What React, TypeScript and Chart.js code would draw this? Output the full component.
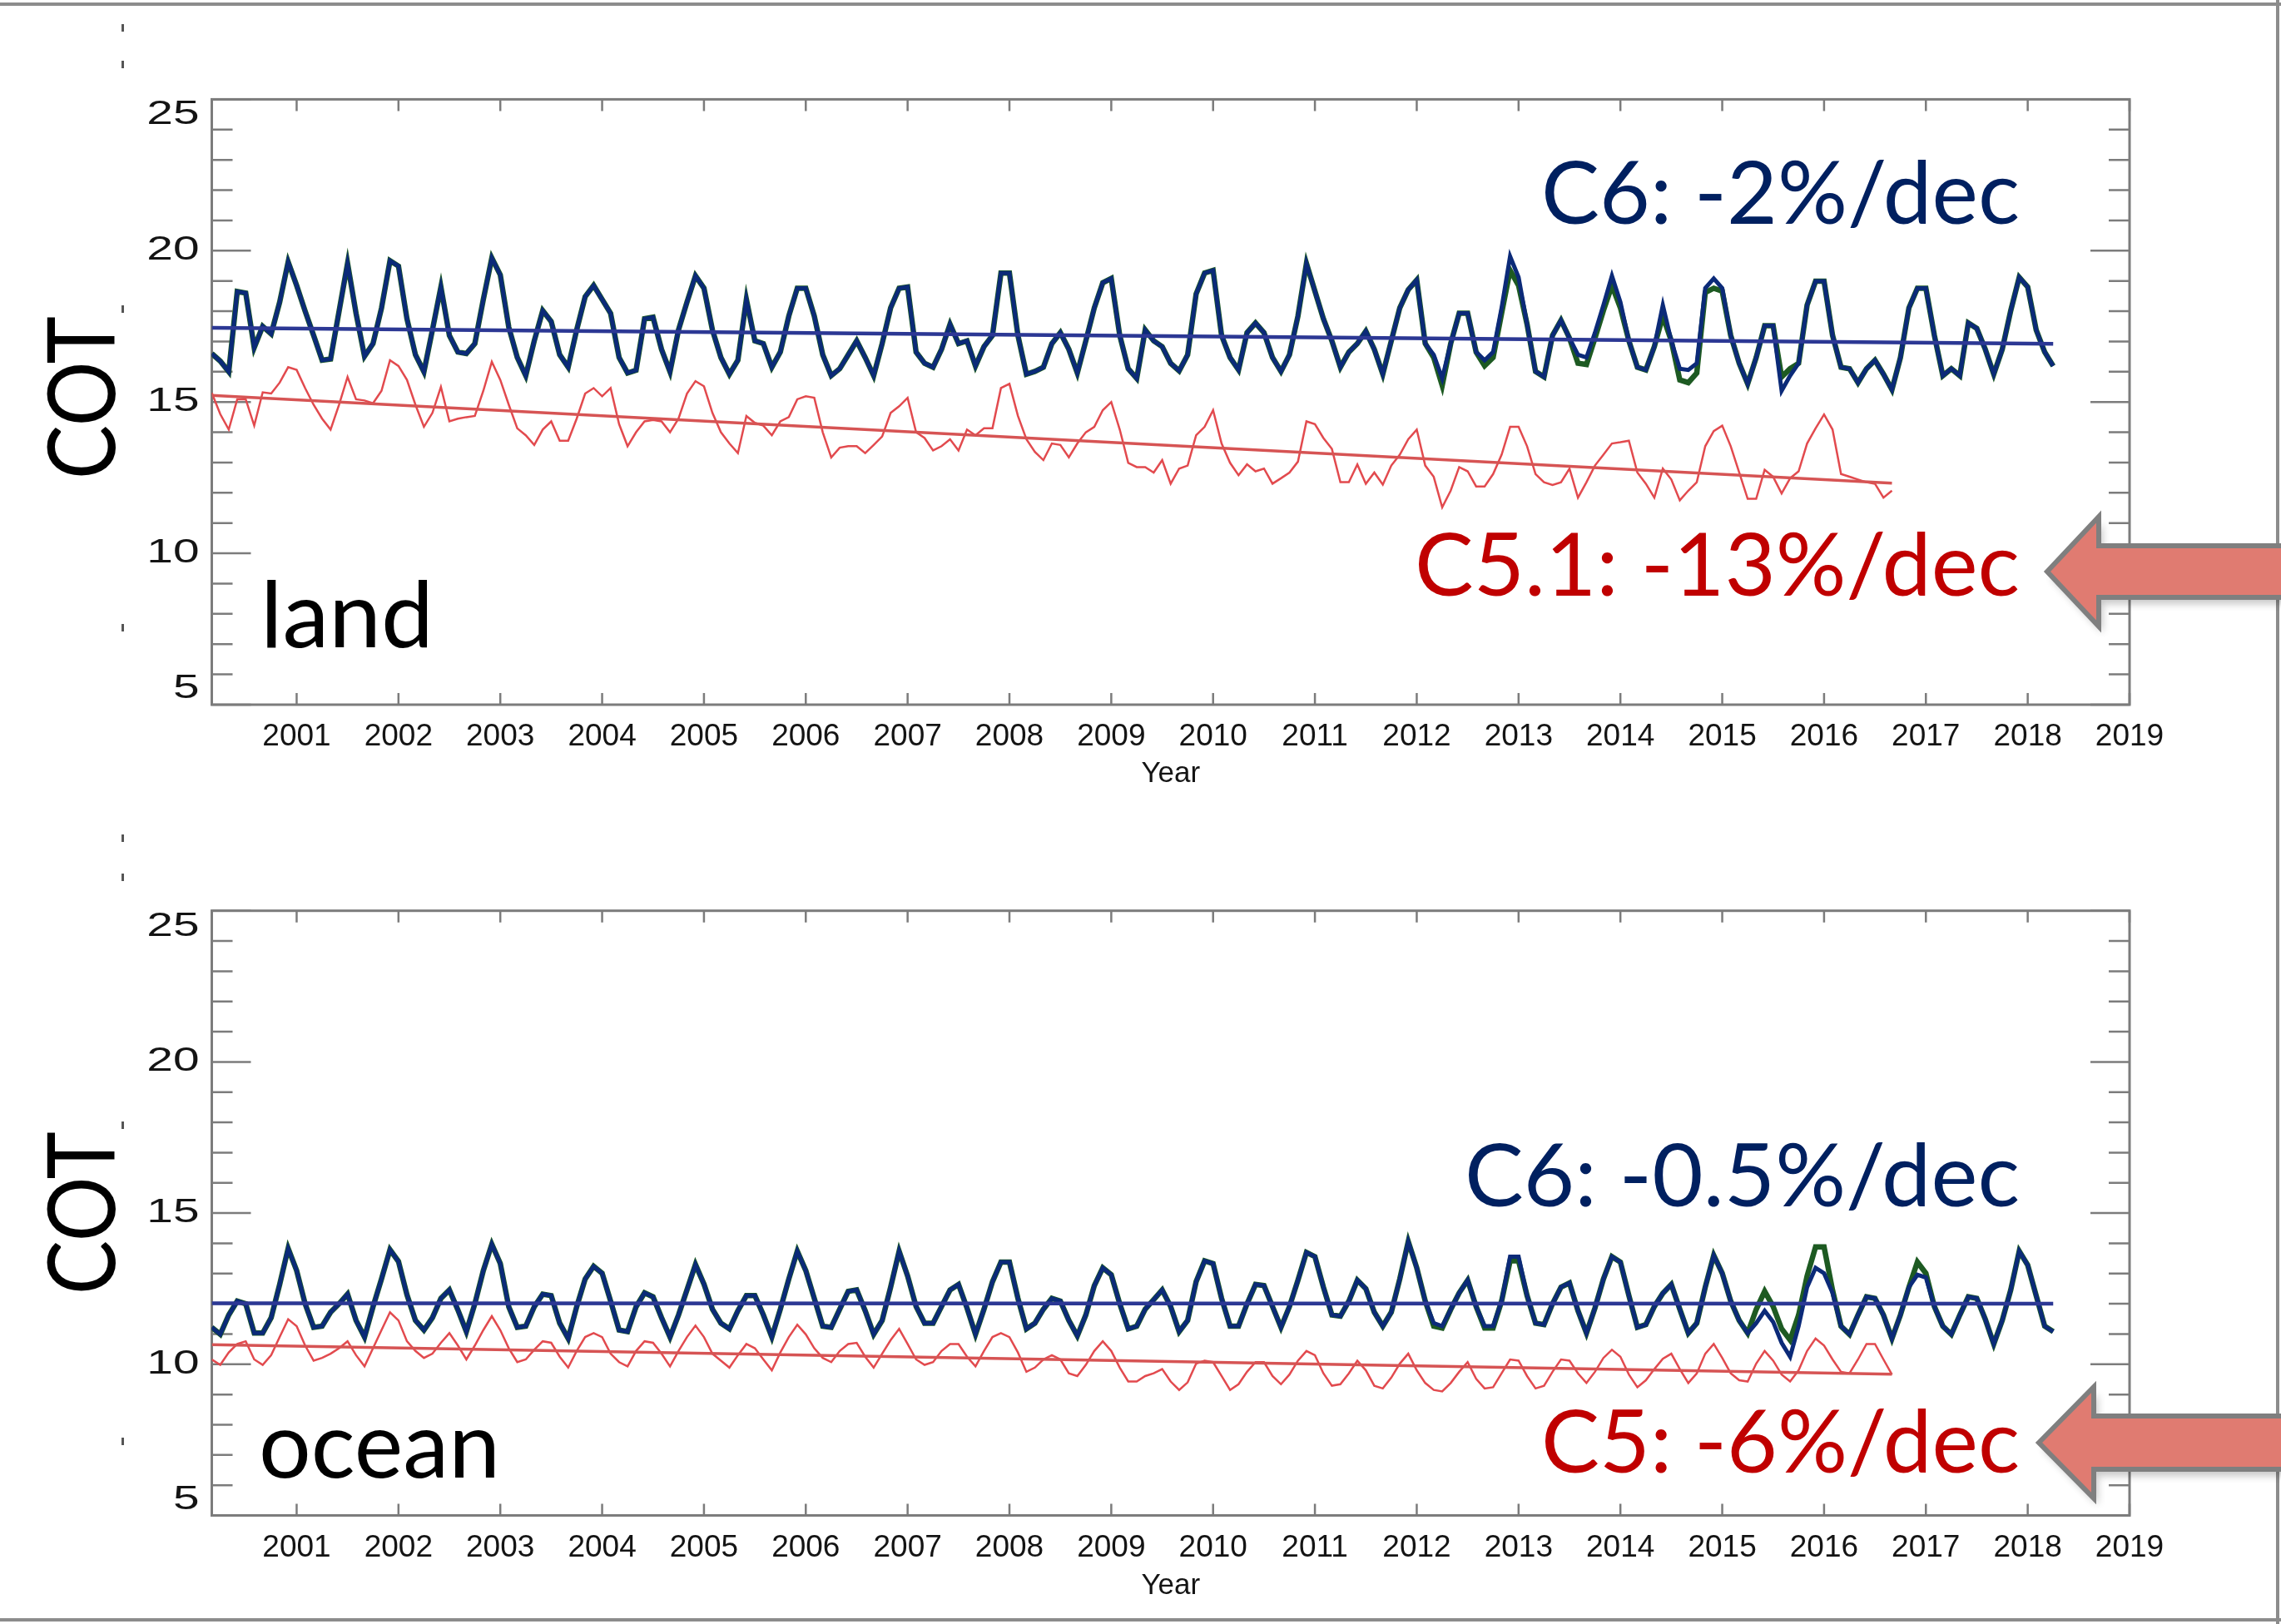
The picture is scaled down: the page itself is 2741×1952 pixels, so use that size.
import React, { useEffect, useRef } from 'react';
import { Chart, registerables } from 'chart.js';

Chart.register(...registerables);

// ---------- data ----------
const YEAR0 = 2000;            // month index 0 = Jan 2000
const FIRST_MONTH = 2;         // series start at Mar 2000
const C6_LAST_MONTH = 219;     // Apr 2018
const C5_LAST_MONTH = 200;     // Sep 2016
const X_MIN = 2000 + 2 / 12;
const X_MAX = 2019;
const YEAR_TICKS = [2001, 2002, 2003, 2004, 2005, 2006, 2007, 2008, 2009, 2010, 2011, 2012, 2013, 2014, 2015, 2016, 2017, 2018, 2019];
const Y_TICKS = [5, 10, 15, 20, 25];
const Y_MINOR_TICKS = [5, 6, 7, 8, 9, 10, 11, 12, 13, 14, 15, 16, 17, 18, 19, 20, 21, 22, 23, 24, 25];

const LAND_C6_BLUE = [
  16.6, 16.35, 16.0, 18.65, 18.6, 16.8, 17.5, 17.25, 18.3, 19.63,
  18.85, 18.0, 17.2, 16.38, 16.42, 18.0, 19.58, 17.93, 16.51, 16.93,
  18.1, 19.67, 19.49, 17.75, 16.56, 16.0, 17.38, 18.8, 17.2, 16.65,
  16.6, 16.93, 18.39, 19.76, 19.2, 17.47, 16.47, 15.87, 17.02, 18.02,
  17.66, 16.56, 16.15, 17.38, 18.48, 18.85, 18.39, 17.93, 16.47, 15.96,
  16.05, 17.75, 17.8, 16.74, 16.0, 17.38, 18.3, 19.17, 18.76, 17.38,
  16.47, 15.92, 16.38, 18.39, 17.02, 16.93, 16.15, 16.65, 17.84, 18.76,
  18.76, 17.84, 16.56, 15.87, 16.1, 16.56, 17.02, 16.47, 15.87, 16.93,
  18.11, 18.76, 18.8, 16.65, 16.28, 16.15, 16.74, 17.57, 16.93, 17.02,
  16.19, 16.83, 17.2, 19.26, 19.26, 17.2, 15.92, 16.01, 16.15, 16.93,
  17.29, 16.74, 15.96, 17.02, 18.11, 18.94, 19.08, 17.2, 16.1, 15.78,
  17.38, 17.02, 16.83, 16.28, 16.03, 16.56, 18.57, 19.26, 19.35, 17.2,
  16.47, 16.06, 17.29, 17.61, 17.29, 16.47, 16.01, 16.56, 17.84, 19.58,
  18.66, 17.75, 17.02, 16.15, 16.65, 16.93, 17.34, 16.74, 15.92, 17.02,
  18.11, 18.71, 19.03, 16.93, 16.56, 15.78, 16.93, 17.93, 17.93, 16.65,
  16.38, 16.65, 18.11, 19.81, 19.12, 17.57, 16.01, 15.83, 17.2, 17.7,
  17.11, 16.56, 16.47, 17.29, 18.2, 19.17, 18.3, 17.02, 16.15, 16.06,
  16.83, 18.2, 17.02, 16.1, 16.06, 16.28, 18.76, 19.08, 18.76, 17.2,
  16.28, 15.6, 16.47, 17.52, 17.52, 15.37, 15.87, 16.28, 18.2, 18.99,
  18.99, 17.2, 16.15, 16.1, 15.64, 16.1, 16.38, 15.92, 15.41, 16.47,
  18.11, 18.76, 18.76, 17.2, 15.87, 16.1, 15.87, 17.61, 17.43, 16.74,
  15.92, 16.74, 18.02, 19.12, 18.8, 17.38, 16.65, 16.19,
];

const LAND_C6_GREEN = [
  16.6, 16.35, 16.0, 18.65, 18.6, 16.8, 17.5, 17.25, 18.3, 19.63,
  18.85, 18.0, 17.2, 16.38, 16.42, 18.0, 19.58, 17.93, 16.51, 16.93,
  18.1, 19.67, 19.49, 17.75, 16.56, 16.0, 17.38, 18.8, 17.2, 16.65,
  16.6, 16.93, 18.39, 19.76, 19.2, 17.47, 16.47, 15.87, 17.02, 18.02,
  17.66, 16.56, 16.15, 17.38, 18.48, 18.85, 18.39, 17.93, 16.47, 15.96,
  16.05, 17.75, 17.8, 16.74, 16.0, 17.38, 18.3, 19.17, 18.76, 17.38,
  16.47, 15.92, 16.38, 18.39, 17.02, 16.93, 16.15, 16.65, 17.84, 18.76,
  18.76, 17.84, 16.56, 15.87, 16.1, 16.56, 17.02, 16.47, 15.87, 16.93,
  18.11, 18.76, 18.8, 16.65, 16.28, 16.15, 16.74, 17.57, 16.93, 17.02,
  16.19, 16.83, 17.2, 19.26, 19.26, 17.2, 15.92, 16.01, 16.15, 16.93,
  17.29, 16.74, 15.96, 17.02, 18.11, 18.94, 19.08, 17.2, 16.1, 15.78,
  17.38, 17.02, 16.83, 16.28, 16.03, 16.56, 18.57, 19.26, 19.35, 17.2,
  16.47, 16.06, 17.29, 17.61, 17.29, 16.47, 16.01, 16.56, 17.84, 19.58,
  18.66, 17.75, 17.02, 16.15, 16.65, 16.93, 17.34, 16.74, 15.92, 17.02,
  18.11, 18.71, 19.03, 16.93, 16.47, 15.55, 16.93, 17.93, 17.93, 16.65,
  16.2, 16.47, 17.93, 19.35, 18.85, 17.57, 16.01, 15.83, 17.2, 17.7,
  17.11, 16.28, 16.24, 17.11, 18.02, 18.85, 18.11, 17.02, 16.15, 16.06,
  16.83, 17.84, 17.02, 15.73, 15.64, 15.96, 18.62, 18.76, 18.66, 17.2,
  16.28, 15.6, 16.47, 17.52, 17.52, 15.83, 16.1, 16.28, 18.2, 18.99,
  18.99, 17.2, 16.15, 16.1, 15.64, 16.1, 16.38, 15.92, 15.41, 16.47,
  18.11, 18.76, 18.76, 17.2, 15.87, 16.1, 15.87, 17.61, 17.43, 16.74,
  15.92, 16.74, 18.02, 19.12, 18.8, 17.38, 16.65, 16.19,
];

const LAND_C51 = [
  15.3, 14.6, 14.09, 15.09, 15.09, 14.22, 15.32, 15.28, 15.64, 16.15,
  16.06, 15.46, 14.91, 14.45, 14.09, 14.91, 15.83, 15.09, 15.05, 14.96,
  15.37, 16.38, 16.19, 15.73, 14.91, 14.18, 14.64, 15.5, 14.36, 14.45,
  14.5, 14.54, 15.37, 16.33, 15.73, 14.91, 14.13, 13.9, 13.58, 14.09,
  14.36, 13.72, 13.72, 14.45, 15.28, 15.46, 15.19, 15.46, 14.27, 13.54,
  14.0, 14.36, 14.41, 14.36, 14.0, 14.45, 15.28, 15.69, 15.52, 14.64,
  14.0, 13.63, 13.31, 14.54, 14.31, 14.22, 13.9, 14.36, 14.5, 15.09,
  15.19, 15.14, 14.0, 13.17, 13.49, 13.54, 13.54, 13.31, 13.58, 13.86,
  14.64, 14.86, 15.14, 14.0, 13.81, 13.4, 13.54, 13.77, 13.4, 14.09,
  13.9, 14.13, 14.13, 15.46, 15.6, 14.54, 13.77, 13.35, 13.08, 13.63,
  13.58, 13.17, 13.63, 14.0, 14.18, 14.73, 15.0, 14.09, 12.99, 12.85,
  12.85, 12.67, 13.08, 12.3, 12.8, 12.9, 13.9, 14.18, 14.73, 13.63,
  12.99, 12.58, 12.94, 12.71, 12.8, 12.3, 12.48, 12.67, 13.03, 14.36,
  14.27, 13.81, 13.45, 12.35, 12.35, 12.94, 12.3, 12.67, 12.27, 12.9,
  13.26, 13.77, 14.09, 12.9, 12.53, 11.52, 12.07, 12.85, 12.71, 12.21,
  12.21, 12.62, 13.26, 14.18, 14.18, 13.54, 12.62, 12.35, 12.26, 12.35,
  12.8, 11.84, 12.35, 12.9, 13.26, 13.63, 13.67, 13.72, 12.67, 12.3,
  11.84, 12.8, 12.44, 11.75, 12.07, 12.35, 13.54, 14.04, 14.22, 13.54,
  12.67, 11.8, 11.8, 12.76, 12.53, 11.98, 12.48, 12.71, 13.63, 14.13,
  14.59, 14.09, 12.62, 12.53, 12.44, 12.35, 12.3, 11.84, 12.07,
];

const OCEAN_C6_BLUE = [
  11.22, 10.99, 11.63, 12.09, 12.0, 11.03, 11.03, 11.54, 12.64, 13.83,
  13.1, 12.0, 11.22, 11.26, 11.72, 12.0, 12.32, 11.45, 10.9, 11.9,
  12.82, 13.79, 13.4, 12.3, 11.45, 11.13, 11.54, 12.18, 12.46, 11.8,
  11.08, 12.0, 13.1, 13.97, 13.33, 11.9, 11.22, 11.26, 11.9, 12.32,
  12.27, 11.36, 10.85, 11.9, 12.82, 13.24, 13.01, 12.09, 11.13, 11.08,
  11.9, 12.36, 12.23, 11.54, 10.9, 11.63, 12.46, 13.3, 12.65, 11.82,
  11.36, 11.17, 11.77, 12.27, 12.27, 11.63, 10.9, 11.82, 12.82, 13.74,
  13.1, 12.18, 11.26, 11.22, 11.82, 12.41, 12.46, 11.77, 10.99, 11.45,
  12.55, 13.74, 12.92, 11.91, 11.36, 11.36, 11.91, 12.46, 12.64, 11.86,
  10.99, 11.82, 12.73, 13.38, 13.38, 12.18, 11.17, 11.36, 11.82, 12.18,
  12.09, 11.45, 10.94, 11.63, 12.6, 13.19, 12.96, 12.0, 11.17, 11.26,
  11.82, 12.14, 12.46, 11.91, 11.08, 11.45, 12.73, 13.42, 13.33, 12.18,
  11.26, 11.26, 12.0, 12.64, 12.6, 11.91, 11.22, 11.91, 12.78, 13.7,
  13.56, 12.55, 11.63, 11.59, 12.09, 12.78, 12.5, 11.72, 11.26, 11.72,
  12.82, 14.06, 13.19, 12.09, 11.36, 11.26, 11.81, 12.36, 12.78, 11.91,
  11.26, 11.26, 12.09, 13.56, 13.56, 12.27, 11.36, 11.31, 12.0, 12.55,
  12.69, 11.77, 11.03, 11.86, 12.82, 13.56, 13.38, 12.27, 11.22, 11.31,
  11.91, 12.35, 12.64, 11.82, 11.03, 11.36, 12.55, 13.6, 13.01, 12.09,
  11.45, 11.03, 11.36, 11.77, 11.4, 10.71, 10.25, 11.26, 12.55, 13.19,
  13.01, 12.36, 11.26, 10.99, 11.63, 12.23, 12.18, 11.63, 10.85, 11.63,
  12.55, 12.96, 12.87, 11.91, 11.26, 10.99, 11.63, 12.23, 12.18, 11.49,
  10.67, 11.45, 12.46, 13.74, 13.28, 12.27, 11.26, 11.08,
];

const OCEAN_C6_GREEN = [
  11.22, 10.99, 11.63, 12.09, 12.0, 11.03, 11.03, 11.54, 12.64, 13.83,
  13.1, 12.0, 11.22, 11.26, 11.72, 12.0, 12.32, 11.45, 10.9, 11.9,
  12.82, 13.79, 13.4, 12.3, 11.45, 11.13, 11.54, 12.18, 12.46, 11.8,
  11.08, 12.0, 13.1, 13.97, 13.33, 11.9, 11.22, 11.26, 11.9, 12.32,
  12.27, 11.36, 10.85, 11.9, 12.82, 13.24, 13.01, 12.09, 11.13, 11.08,
  11.9, 12.36, 12.23, 11.54, 10.9, 11.63, 12.46, 13.3, 12.65, 11.82,
  11.36, 11.17, 11.77, 12.27, 12.27, 11.63, 10.9, 11.82, 12.82, 13.74,
  13.1, 12.18, 11.26, 11.22, 11.82, 12.41, 12.46, 11.77, 10.99, 11.45,
  12.55, 13.74, 12.92, 11.91, 11.36, 11.36, 11.91, 12.46, 12.64, 11.86,
  10.99, 11.82, 12.73, 13.38, 13.38, 12.18, 11.17, 11.36, 11.82, 12.18,
  12.09, 11.45, 10.94, 11.63, 12.6, 13.19, 12.96, 12.0, 11.17, 11.26,
  11.82, 12.14, 12.46, 11.91, 11.08, 11.45, 12.73, 13.42, 13.33, 12.18,
  11.26, 11.26, 12.0, 12.64, 12.6, 11.91, 11.22, 11.91, 12.78, 13.7,
  13.56, 12.55, 11.63, 11.59, 12.09, 12.78, 12.5, 11.72, 11.26, 11.72,
  12.82, 14.06, 13.19, 12.09, 11.26, 11.2, 11.81, 12.36, 12.78, 11.91,
  11.2, 11.2, 12.09, 13.42, 13.42, 12.27, 11.36, 11.31, 12.0, 12.55,
  12.69, 11.77, 11.03, 11.86, 12.82, 13.56, 13.38, 12.27, 11.22, 11.31,
  11.91, 12.35, 12.64, 11.82, 11.03, 11.36, 12.55, 13.6, 13.01, 12.09,
  11.45, 11.03, 11.81, 12.41, 11.91, 11.17, 10.8, 11.63, 12.92, 13.88,
  13.88, 12.45, 11.26, 10.99, 11.63, 12.23, 12.18, 11.63, 10.85, 11.63,
  12.55, 13.38, 13.01, 11.91, 11.26, 10.99, 11.63, 12.23, 12.18, 11.49,
  10.67, 11.45, 12.46, 13.74, 13.28, 12.27, 11.26, 11.08,
];

const OCEAN_C5 = [
  10.16, 9.98, 10.39, 10.67, 10.76, 10.16, 9.98, 10.3, 10.9, 11.49,
  11.26, 10.62, 10.12, 10.21, 10.35, 10.53, 10.76, 10.3, 9.93, 10.53,
  11.13, 11.72, 11.45, 10.76, 10.44, 10.21, 10.35, 10.71, 11.03, 10.62,
  10.16, 10.62, 11.13, 11.59, 11.13, 10.53, 10.07, 10.16, 10.48, 10.76,
  10.71, 10.25, 9.89, 10.44, 10.9, 11.03, 10.9, 10.35, 10.07, 9.93,
  10.44, 10.76, 10.71, 10.35, 9.93, 10.44, 10.9, 11.28, 10.9, 10.35,
  10.12, 9.89, 10.3, 10.67, 10.53, 10.16, 9.8, 10.39, 10.9, 11.31,
  10.99, 10.53, 10.21, 10.07, 10.44, 10.67, 10.71, 10.25, 9.89, 10.35,
  10.8, 11.17, 10.67, 10.16, 9.98, 10.07, 10.44, 10.67, 10.67, 10.25,
  9.93, 10.44, 10.9, 11.03, 10.9, 10.39, 9.75, 9.89, 10.16, 10.3,
  10.16, 9.7, 9.61, 9.98, 10.44, 10.76, 10.44, 9.89, 9.43, 9.43,
  9.61, 9.7, 9.84, 9.43, 9.15, 9.4, 10.02, 10.12, 10.07, 9.61,
  9.15, 9.34, 9.75, 10.07, 10.07, 9.61, 9.34, 9.66, 10.12, 10.44,
  10.3, 9.7, 9.29, 9.34, 9.7, 10.12, 9.8, 9.29, 9.2, 9.56,
  10.02, 10.35, 9.8, 9.38, 9.15, 9.1, 9.38, 9.75, 10.07, 9.52,
  9.2, 9.24, 9.7, 10.16, 10.12, 9.61, 9.2, 9.29, 9.75, 10.16,
  10.12, 9.7, 9.38, 9.75, 10.21, 10.48, 10.25, 9.66, 9.24, 9.47,
  9.84, 10.18, 10.35, 9.84, 9.38, 9.7, 10.35, 10.67, 10.21, 9.7,
  9.47, 9.43, 10.02, 10.44, 10.12, 9.66, 9.43, 9.8, 10.44, 10.85,
  10.62, 10.16, 9.75, 9.7, 10.16, 10.67, 10.67, 10.16, 9.66,
];

// trend lines: [value at first month, value at last month]
const LAND_C6_TREND = [17.45, 16.92];
const LAND_C51_TREND = [15.22, 12.32];
const OCEAN_C6_TREND = [12.02, 12.0];
const OCEAN_C5_TREND = [10.65, 9.67];

// ---------- styling ----------
const W = 2741;
const H = 1952;
const AXIS_COLOR = '#7c7c7c';
const LABEL_COLOR = '#141414';
const BLUE = '#0b2a78';
const GREEN = '#1d5a22';
const RED = '#e24a4e';
const BLUE_TREND = '#2c3894';
const RED_TREND = '#d65454';
const TICK_FONT = "'Liberation Sans', Arial, sans-serif";
const ANNOT_FONT = "Lato, 'Open Sans', sans-serif";

const monthX = (m: number) => YEAR0 + m / 12;
const toPoints = (vals: number[]) => vals.map((v, i) => ({ x: monthX(FIRST_MONTH + i), y: v }));
const trendPoints = (t: number[], last: number) => [
  { x: monthX(FIRST_MONTH), y: t[0] },
  { x: monthX(last), y: t[1] },
];

const idlAxesPlugin = {
  id: 'idlAxes',
  beforeDatasetsDraw(chart: any) {
    const { ctx, chartArea: a } = chart;
    const xs = chart.scales.x;
    const ys = chart.scales.y;
    ctx.save();
    ctx.strokeStyle = AXIS_COLOR;
    ctx.lineWidth = 2.5;
    ctx.beginPath();
    for (const t of xs.ticks) {
      const px = xs.getPixelForValue(t.value);
      ctx.moveTo(px, a.bottom);
      ctx.lineTo(px, a.bottom - 14);
      ctx.moveTo(px, a.top);
      ctx.lineTo(px, a.top + 14);
    }
    for (const v of Y_MINOR_TICKS) {
      const py = ys.getPixelForValue(v);
      const len = Y_TICKS.includes(v) ? 47 : 25;
      ctx.moveTo(a.left, py);
      ctx.lineTo(a.left + len, py);
      ctx.moveTo(a.right, py);
      ctx.lineTo(a.right - len, py);
    }
    ctx.stroke();
    ctx.lineWidth = 3;
    ctx.strokeRect(a.left, a.top, a.right - a.left, a.bottom - a.top);

    // y tick labels (IDL style: wide digits, end labels pulled inside)
    ctx.fillStyle = LABEL_COLOR;
    ctx.font = `40px ${TICK_FONT}`;
    ctx.textAlign = 'right';
    ctx.textBaseline = 'middle';
    for (const t of ys.ticks) {
      let py = ys.getPixelForValue(t.value);
      if (t.value === ys.max) py += 19;
      else if (t.value === ys.min) py -= 19;
      ctx.save();
      ctx.translate(a.left - 15, py);
      ctx.scale(1.42, 1);
      ctx.fillText(String(t.value), 0, 0);
      ctx.restore();
    }
    ctx.restore();
  },
};

type PanelProps = {
  top: number;
  height: number;
  padTop: number;
  xAxisH: number;
  titlePB: number;
  blue: number[];
  green: number[];
  red: number[];
  blueTrend: number[];
  redTrend: number[];
};

function Panel(p: PanelProps) {
  const ref = useRef<HTMLCanvasElement | null>(null);
  useEffect(() => {
    if (!ref.current) return;
    const lineBase = { pointRadius: 0, tension: 0, fill: false, borderJoinStyle: 'miter' as const };
    const chart = new Chart(ref.current, {
      type: 'line',
      data: {
        datasets: [
          { ...lineBase, label: 'C6 trend', data: trendPoints(p.blueTrend, C6_LAST_MONTH), borderColor: BLUE_TREND, borderWidth: 4.5 },
          { ...lineBase, label: 'C5 trend', data: trendPoints(p.redTrend, C5_LAST_MONTH), borderColor: RED_TREND, borderWidth: 3.5 },
          { ...lineBase, label: 'C6 blue', data: toPoints(p.blue), borderColor: BLUE, borderWidth: 5 },
          { ...lineBase, label: 'C6 green', data: toPoints(p.green), borderColor: GREEN, borderWidth: 6.5 },
          { ...lineBase, label: 'C5', data: toPoints(p.red), borderColor: RED, borderWidth: 2.5 },
        ],
      },
      options: {
        responsive: false,
        animation: false,
        devicePixelRatio: 1,
        events: [],
        layout: { padding: { left: 0, right: 182, top: p.padTop, bottom: 0 } },
        plugins: { legend: { display: false }, tooltip: { enabled: false }, title: { display: false } },
        scales: {
          x: {
            type: 'linear',
            position: 'bottom',
            min: X_MIN,
            max: X_MAX,
            afterBuildTicks: (s: any) => {
              s.ticks = YEAR_TICKS.map((v) => ({ value: v }));
            },
            afterFit: (s: any) => {
              s.height = p.xAxisH;
            },
            grid: { display: false, drawTicks: false },
            border: { display: false },
            ticks: {
              autoSkip: false,
              maxRotation: 0,
              padding: 17,
              color: LABEL_COLOR,
              font: { family: TICK_FONT, size: 37 },
              callback: (v: any) => String(v),
            },
            title: {
              display: true,
              text: 'Year',
              color: LABEL_COLOR,
              font: { family: TICK_FONT, size: 35 },
              padding: { top: 0, bottom: p.titlePB },
            },
          },
          y: {
            type: 'linear',
            min: 5,
            max: 25,
            afterBuildTicks: (s: any) => {
              s.ticks = Y_TICKS.map((v) => ({ value: v }));
            },
            afterFit: (s: any) => {
              s.width = 254.5;
            },
            grid: { display: false, drawTicks: false },
            border: { display: false },
            ticks: { display: false },
          },
        },
      } as any,
      plugins: [idlAxesPlugin],
    });
    return () => chart.destroy();
  }, []);
  return (
    <canvas
      ref={ref}
      width={W}
      height={p.height}
      style={{ position: 'absolute', left: 0, top: p.top, width: W, height: p.height, display: 'block' }}
    />
  );
}

function Arrow({ tipX, tipY, backX, headHalf, shaftHalf }: { tipX: number; tipY: number; backX: number; headHalf: number; shaftHalf: number }) {
  const pts = [
    [tipX, tipY],
    [backX, tipY - headHalf],
    [backX, tipY - shaftHalf],
    [W + 20, tipY - shaftHalf],
    [W + 20, tipY + shaftHalf],
    [backX, tipY + shaftHalf],
    [backX, tipY + headHalf],
  ]
    .map((q) => q.join(','))
    .join(' ');
  return (
    <g>
      <polygon points={pts} transform="translate(5,8)" fill="#000" opacity={0.22} filter="url(#blurShadow)" />
      <polygon points={pts} fill="#e07b71" stroke="#7f7f7f" strokeWidth={6} strokeLinejoin="miter" />
    </g>
  );
}

export default function App() {
  const textBase = { fontFamily: ANNOT_FONT, lengthAdjust: 'spacingAndGlyphs' as const };
  return (
    <div style={{ position: 'absolute', left: 0, top: 0, width: W, height: H, background: '#ffffff', overflow: 'hidden' }}>
      <Panel
        top={0}
        height={960}
        padTop={119.4}
        xAxisH={113}
        titlePB={9}
        blue={LAND_C6_BLUE}
        green={LAND_C6_GREEN}
        red={LAND_C51}
        blueTrend={LAND_C6_TREND}
        redTrend={LAND_C51_TREND}
      />
      <Panel
        top={960}
        height={992}
        padTop={134.7}
        xAxisH={130.5}
        titlePB={25}
        blue={OCEAN_C6_BLUE}
        green={OCEAN_C6_GREEN}
        red={OCEAN_C5}
        blueTrend={OCEAN_C6_TREND}
        redTrend={OCEAN_C5_TREND}
      />
      <svg width={W} height={H} style={{ position: 'absolute', left: 0, top: 0, pointerEvents: 'none' }}>
        <defs>
          <filter id="blurShadow" x="-10%" y="-20%" width="130%" height="150%">
            <feGaussianBlur stdDeviation="5" />
          </filter>
        </defs>
        {/* slide frame */}
        <line x1={0} y1={5} x2={W} y2={5} stroke="#8c8c8c" strokeWidth={4} />
        <line x1={2737} y1={0} x2={2737} y2={H} stroke="#8c8c8c" strokeWidth={4} />
        <line x1={0} y1={1947} x2={W} y2={1947} stroke="#8c8c8c" strokeWidth={4} />

        {/* stray marks on the left margin */}
        {[29, 73, 367, 750, 1003, 1050, 1348, 1728].map((y) => (
          <rect key={y} x={146} y={y} width={3} height={9} fill="#555" />
        ))}

        <Arrow tipX={2460} tipY={687} backX={2522} headHalf={66} shaftHalf={31} />
        <Arrow tipX={2450} tipY={1734} backX={2516} headHalf={67} shaftHalf={32} />

        {/* axis titles */}
        <text {...textBase} transform="translate(138,478) rotate(-90)" textAnchor="middle" fontSize={112} fill="#000" textLength={196}>COT</text>
        <text {...textBase} transform="translate(138,1458) rotate(-90)" textAnchor="middle" fontSize={112} fill="#000" textLength={196}>COT</text>

        {/* land panel annotations */}
        <text {...textBase} x={1852} y={269} fontSize={104} fill="#002060" textLength={575}>C6: -2%/dec</text>
        <text {...textBase} x={1700} y={716} fontSize={104} fill="#c00000" textLength={727}>C5.1: -13%/dec</text>
        <text {...textBase} x={313} y={778} fontSize={110} fill="#000" textLength={208}>land</text>

        {/* ocean panel annotations */}
        <text {...textBase} x={1760} y={1450} fontSize={104} fill="#002060" textLength={667}>C6: -0.5%/dec</text>
        <text {...textBase} x={1852} y={1770} fontSize={104} fill="#c00000" textLength={575}>C5: -6%/dec</text>
        <text {...textBase} x={311} y={1776} fontSize={110} fill="#000" textLength={290}>ocean</text>
      </svg>
    </div>
  );
}
